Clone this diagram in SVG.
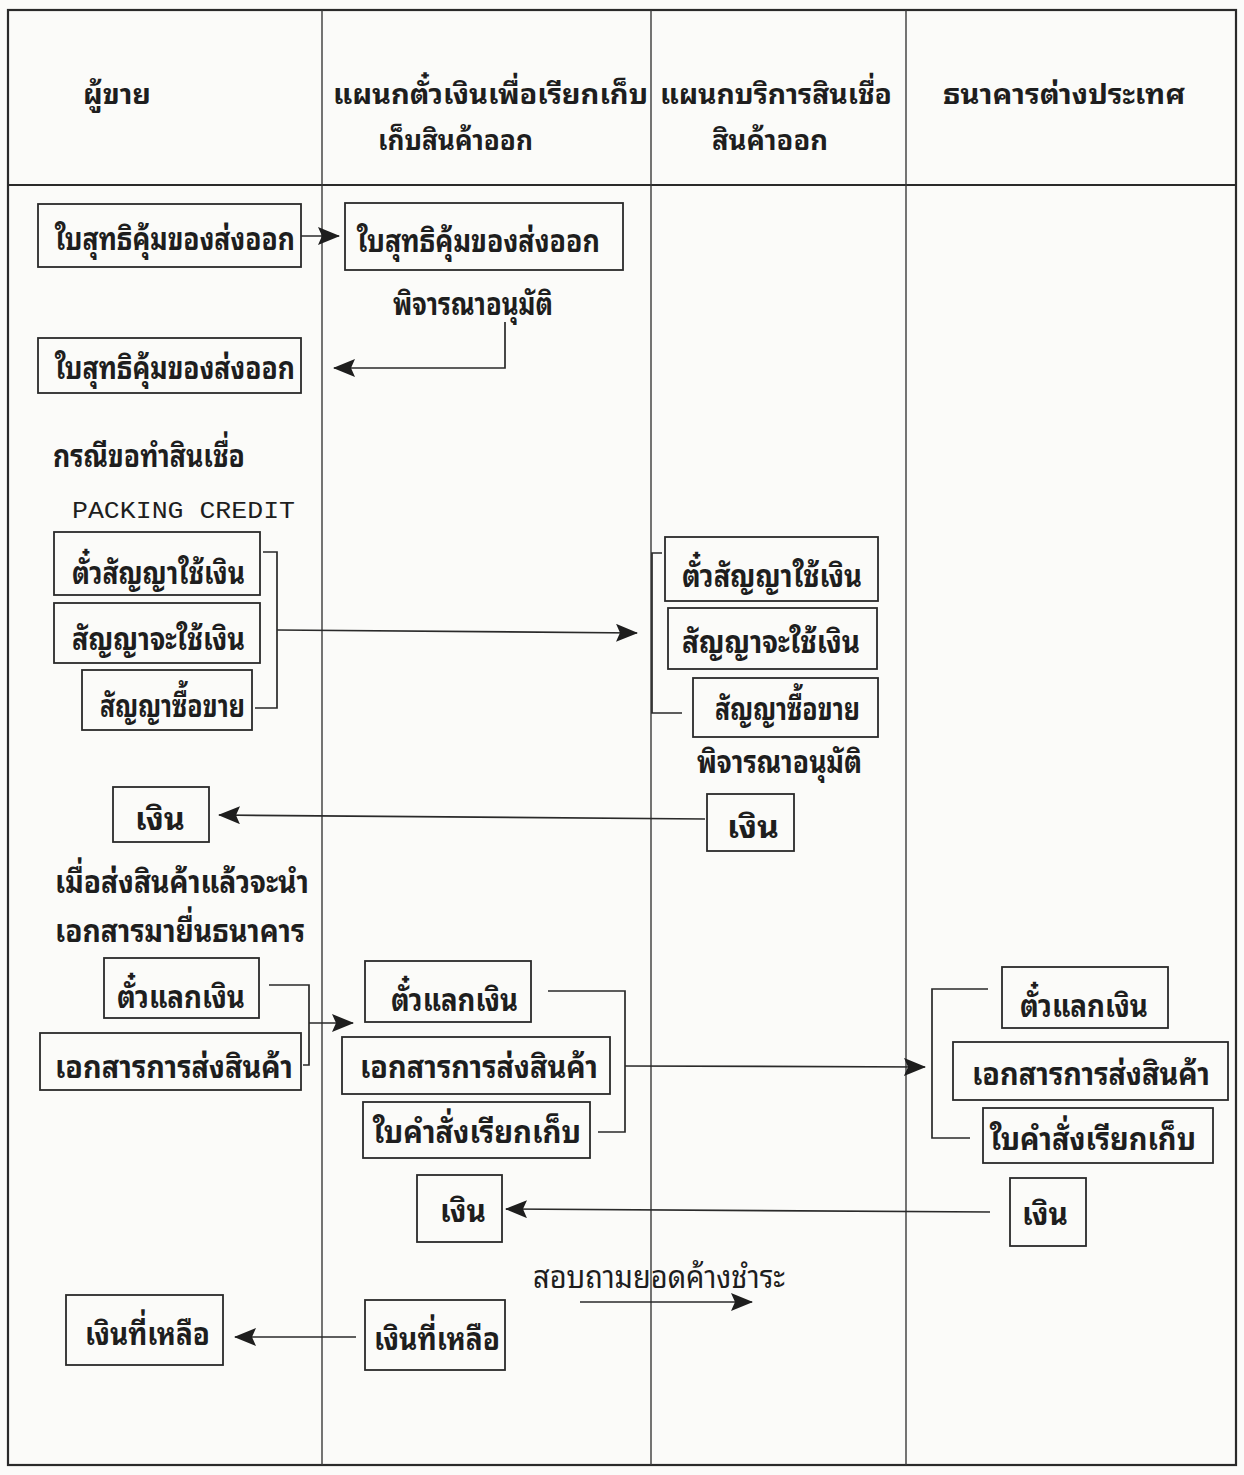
<svg xmlns="http://www.w3.org/2000/svg" width="1244" height="1475" viewBox="0 0 1244 1475">
<style>
.bg{fill:#fbfbf9}
.frame{fill:none;stroke:#2a2a2a;stroke-width:2.2}
.div{fill:none;stroke:#3a3a3a;stroke-width:1.4}
.box{fill:none;stroke:#2a2a2a;stroke-width:1.8}
.ln{fill:none;stroke:#2a2a2a;stroke-width:1.7}
.t{font-family:"Noto Sans Thai Looped","Noto Sans Thai","Noto Sans Thai UI","Loma","Garuda","Norasi","Noto Sans",sans-serif;font-size:32px;font-weight:bold;fill:#1e1e1e}
.h{font-size:28px}
.m{font-family:"Liberation Mono","Courier New",monospace;font-size:24px;fill:#1e1e1e}
</style>
<defs>
<marker id="ah" viewBox="0 0 22 18" refX="21" refY="9" markerWidth="22" markerHeight="18" markerUnits="userSpaceOnUse" orient="auto">
<path d="M0,0 L22,9 L0,18 L4,9 Z" fill="#1e1e1e"/>
</marker>
</defs>
<rect class="bg" x="0" y="0" width="1244" height="1475"/>
<g id="frame">
<rect class="frame" x="8" y="10" width="1228" height="1455"/>
<line class="frame" x1="8" y1="185" x2="1236" y2="185"/>
<line class="div" x1="322" y1="10" x2="322" y2="1465"/>
<line class="div" x1="651" y1="10" x2="651" y2="1465"/>
<line class="div" x1="906" y1="10" x2="906" y2="1465"/>
</g>
<g id="headers">
<text class="t h" x="83" y="104" textLength="68" lengthAdjust="spacingAndGlyphs">ผู้ขาย</text>
<text class="t h" x="333" y="104" textLength="315" lengthAdjust="spacingAndGlyphs">แผนกตั๋วเงินเพื่อเรียกเก็บ</text>
<text class="t h" x="378" y="150" textLength="155" lengthAdjust="spacingAndGlyphs">เก็บสินค้าออก</text>
<text class="t h" x="660" y="104" textLength="232" lengthAdjust="spacingAndGlyphs">แผนกบริการสินเชื่อ</text>
<text class="t h" x="712" y="150" textLength="116" lengthAdjust="spacingAndGlyphs">สินค้าออก</text>
<text class="t h" x="943" y="104" textLength="242" lengthAdjust="spacingAndGlyphs">ธนาคารต่างประเทศ</text>
</g>
<g id="A1"><rect class="box" x="38" y="204" width="263" height="63"/><text class="t" x="55" y="250" textLength="240" lengthAdjust="spacingAndGlyphs">ใบสุทธิคุ้มของส่งออก</text></g>
<g id="B1"><rect class="box" x="345" y="203" width="278" height="67"/><text class="t" x="357" y="252" textLength="243" lengthAdjust="spacingAndGlyphs">ใบสุทธิคุ้มของส่งออก</text></g>
<g id="note1"><text class="t" x="393" y="315" textLength="160" lengthAdjust="spacingAndGlyphs">พิจารณาอนุมัติ</text></g>
<g id="A2"><rect class="box" x="38" y="338" width="263" height="55"/><text class="t" x="55" y="379" textLength="240" lengthAdjust="spacingAndGlyphs">ใบสุทธิคุ้มของส่งออก</text></g>
<g id="note2"><text class="t" x="53" y="467" textLength="192" lengthAdjust="spacingAndGlyphs">กรณีขอทำสินเชื่อ</text></g>
<g id="note3"><text class="m" x="72" y="518" textLength="223" lengthAdjust="spacingAndGlyphs">PACKING CREDIT</text></g>
<g id="C1"><rect class="box" x="54" y="532" width="206" height="63"/><text class="t" x="72" y="584" textLength="173" lengthAdjust="spacingAndGlyphs">ตั๋วสัญญาใช้เงิน</text></g>
<g id="C2"><rect class="box" x="54" y="603" width="206" height="60"/><text class="t" x="72" y="650" textLength="173" lengthAdjust="spacingAndGlyphs">สัญญาจะใช้เงิน</text></g>
<g id="C3"><rect class="box" x="82" y="670" width="170" height="60"/><text class="t" x="100" y="717" textLength="145" lengthAdjust="spacingAndGlyphs">สัญญาซื้อขาย</text></g>
<g id="D1"><rect class="box" x="665" y="537" width="213" height="64"/><text class="t" x="682" y="587" textLength="180" lengthAdjust="spacingAndGlyphs">ตั๋วสัญญาใช้เงิน</text></g>
<g id="D2"><rect class="box" x="668" y="608" width="209" height="61"/><text class="t" x="682" y="653" textLength="178" lengthAdjust="spacingAndGlyphs">สัญญาจะใช้เงิน</text></g>
<g id="D3"><rect class="box" x="693" y="678" width="185" height="59"/><text class="t" x="715" y="720" textLength="145" lengthAdjust="spacingAndGlyphs">สัญญาซื้อขาย</text></g>
<g id="note4"><text class="t" x="697" y="773" textLength="165" lengthAdjust="spacingAndGlyphs">พิจารณาอนุมัติ</text></g>
<g id="E"><rect class="box" x="707" y="794" width="87" height="57"/><text class="t" x="727" y="838" textLength="52" lengthAdjust="spacingAndGlyphs">เงิน</text></g>
<g id="F"><rect class="box" x="113" y="787" width="96" height="55"/><text class="t" x="135" y="830" textLength="50" lengthAdjust="spacingAndGlyphs">เงิน</text></g>
<g id="note5"><text class="t" x="55" y="893" textLength="254" lengthAdjust="spacingAndGlyphs">เมื่อส่งสินค้าแล้วจะนำ</text><text class="t" x="55" y="942" textLength="250" lengthAdjust="spacingAndGlyphs">เอกสารมายื่นธนาคาร</text></g>
<g id="G1"><rect class="box" x="104" y="958" width="155" height="60"/><text class="t" x="117" y="1008" textLength="128" lengthAdjust="spacingAndGlyphs">ตั๋วแลกเงิน</text></g>
<g id="G2"><rect class="box" x="40" y="1033" width="261" height="57"/><text class="t" x="55" y="1078" textLength="238" lengthAdjust="spacingAndGlyphs">เอกสารการส่งสินค้า</text></g>
<g id="H1"><rect class="box" x="365" y="961" width="166" height="61"/><text class="t" x="391" y="1011" textLength="127" lengthAdjust="spacingAndGlyphs">ตั๋วแลกเงิน</text></g>
<g id="H2"><rect class="box" x="342" y="1037" width="268" height="57"/><text class="t" x="360" y="1078" textLength="238" lengthAdjust="spacingAndGlyphs">เอกสารการส่งสินค้า</text></g>
<g id="H3"><rect class="box" x="363" y="1102" width="227" height="56"/><text class="t" x="373" y="1143" textLength="208" lengthAdjust="spacingAndGlyphs">ใบคำสั่งเรียกเก็บ</text></g>
<g id="I1"><rect class="box" x="1002" y="967" width="166" height="61"/><text class="t" x="1020" y="1017" textLength="128" lengthAdjust="spacingAndGlyphs">ตั๋วแลกเงิน</text></g>
<g id="I2"><rect class="box" x="953" y="1042" width="275" height="58"/><text class="t" x="972" y="1085" textLength="238" lengthAdjust="spacingAndGlyphs">เอกสารการส่งสินค้า</text></g>
<g id="I3"><rect class="box" x="983" y="1108" width="230" height="55"/><text class="t" x="990" y="1150" textLength="206" lengthAdjust="spacingAndGlyphs">ใบคำสั่งเรียกเก็บ</text></g>
<g id="J"><rect class="box" x="1010" y="1178" width="76" height="68"/><text class="t" x="1022" y="1225" textLength="46" lengthAdjust="spacingAndGlyphs">เงิน</text></g>
<g id="K"><rect class="box" x="417" y="1175" width="85" height="67"/><text class="t" x="440" y="1222" textLength="46" lengthAdjust="spacingAndGlyphs">เงิน</text></g>
<g id="note6"><text class="t" x="533" y="1288" textLength="252" lengthAdjust="spacingAndGlyphs" style="font-weight:normal">สอบถามยอดค้างชำระ</text></g>
<g id="L"><rect class="box" x="365" y="1300" width="140" height="70"/><text class="t" x="374" y="1350" textLength="126" lengthAdjust="spacingAndGlyphs">เงินที่เหลือ</text></g>
<g id="M"><rect class="box" x="66" y="1295" width="157" height="70"/><text class="t" x="85" y="1345" textLength="125" lengthAdjust="spacingAndGlyphs">เงินที่เหลือ</text></g>
<g id="connectors">
<line class="ln" x1="301" y1="236" x2="339" y2="236" marker-end="url(#ah)"/>
<polyline class="ln" points="505,322 505,368 334,368" marker-end="url(#ah)"/>
<polyline class="ln" points="263,552 277,552 277,708 255,708"/>
<line class="ln" x1="277" y1="630" x2="637" y2="633" marker-end="url(#ah)"/>
<polyline class="ln" points="662,553 652,553 652,713 682,713"/>
<line class="ln" x1="705" y1="819" x2="219" y2="815" marker-end="url(#ah)"/>
<polyline class="ln" points="269,985 309,985 309,1065 303,1065"/>
<line class="ln" x1="309" y1="1023" x2="353" y2="1023" marker-end="url(#ah)"/>
<polyline class="ln" points="548,991 625,991 625,1132 598,1132"/>
<line class="ln" x1="625" y1="1066" x2="925" y2="1067" marker-end="url(#ah)"/>
<polyline class="ln" points="988,989 932,989 932,1138 970,1138"/>
<line class="ln" x1="990" y1="1212" x2="506" y2="1209" marker-end="url(#ah)"/>
<line class="ln" x1="580" y1="1302" x2="752" y2="1302" marker-end="url(#ah)"/>
<line class="ln" x1="356" y1="1337" x2="235" y2="1337" marker-end="url(#ah)"/>
</g>
</svg>
